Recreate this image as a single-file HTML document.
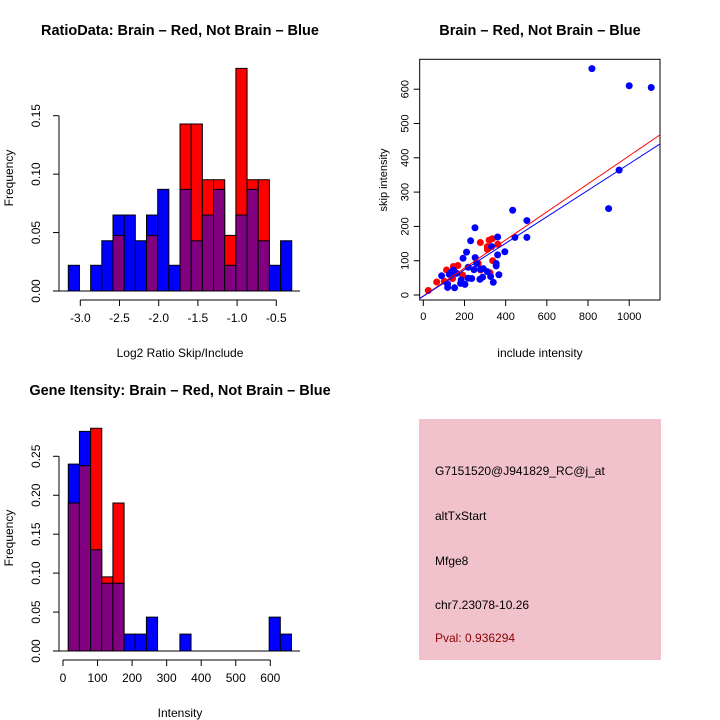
<!DOCTYPE html>
<html><head><meta charset="utf-8"><style>
body{margin:0;background:#fff}
svg{display:block;font-family:"Liberation Sans",sans-serif}
</style></head><body>
<svg id="chart" width="720" height="720" xmlns="http://www.w3.org/2000/svg">
<rect width="720" height="720" fill="#fff"/>
<g id="h1"></g>
<g id="sc"></g>
<g id="h2"></g>
<g>
<rect x="419" y="419" width="242" height="241" fill="#f1c2cc"/>
<g font-size="12" fill="#000">
<text x="435" y="475">G7151520@J941829_RC@j_at</text>
<text x="435" y="520">altTxStart</text>
<text x="435" y="565">Mfge8</text>
<text x="435" y="609">chr7.23078-10.26</text>
<text x="435" y="642" fill="#8b0000">Pval: 0.936294</text>
</g></g>
</svg>
<script>
const NS="http://www.w3.org/2000/svg";
// Ratio histogram data
const ratioBlue=[0.022,0,0.022,0.043,0.065,0.065,0.043,0.065,0.087,0.022,0.087,0.043,0.065,0.087,0.022,0.065,0.087,0.043,0.022,0.043];
const ratioRed=[0,0,0,0,0.0476,0,0,0.0476,0,0,0.1429,0.1429,0.0952,0.0952,0.0476,0.1905,0.0952,0.0952,0,0];
const ratioBinStart=-3.153, ratioBinWidth=0.1425;
const ratioXTicks=[-3.0,-2.5,-2.0,-1.5,-1.0,-0.5];
const ratioYTicks=[0,0.05,0.10,0.15];
// Intensity histogram data
const intBlue=[0.24,0.282,0.13,0.087,0.087,0.0217,0.0217,0.0435,0,0,0.0217,0,0,0,0,0,0,0,0.0435,0.0217];
const intRed=[0.19,0.238,0.286,0.0952,0.19,0,0,0,0,0,0,0,0,0,0,0,0,0,0,0];
const intBinStart=15.3, intBinWidth=32.3;
const intXTicks=[0,100,200,300,400,500,600];
const intYTicks=[0,0.05,0.10,0.15,0.20,0.25];
// Scatter data
const blueX=[819,1000,1107,951,900,434,503,445,503,251,361,230,396,210,193,252,361,332,354,354,218,246,291,311,146,133,126,89,162,184,181,202,118,118,152,218,235,275,288,327,340,367,259,278];
const blueY=[660,610,605,364,252,247,217,168,168,196,169,158,126,125,107,109,117,141,92,85,81,74,77,68,73,65,60,56,63,44,34,31,32,22,21,49,48,46,52,54,37,59,92,75];
const redX=[24,65,102,113,146,168,191,142,277,311,320,335,362,337,267,278,324,311,150];
const redY=[13,38,40,73,83,86,58,48,153,141,160,164,148,100,92,73,65,133,70];
const fitIntercept=[-3.2,-3.5]; // red, blue
const fitSlope=[0.409,0.386];
const scXTicks=[0,200,400,600,800,1000];
const scYTicks=[0,100,200,300,400,500,600];

function el(p,tag,attrs,txt){const e=document.createElementNS(NS,tag);for(const k in attrs)e.setAttribute(k,attrs[k]);if(txt!=null)e.textContent=txt;p.appendChild(e);return e;}

function hist(g,blue,red,start,width,xs,ys,xTicks,yTicks,xDom,yAx,xAxY){
  for(let i=0;i<blue.length;i++){
    const b=blue[i],r=red[i];
    const x0=xs(start+i*width),x1=xs(start+(i+1)*width);
    const mx=Math.max(b,r),mn=Math.min(b,r);
    if(mx>0){
      const e=el(g,'rect',{x:x0,y:ys(mx),width:x1-x0,height:ys(0)-ys(mx),fill:b>=r?'#0000ff':'#ff0000',stroke:'#000','stroke-width':1});
      
      
    }
    if(mn>0){
      const e=el(g,'rect',{x:x0,y:ys(mn),width:x1-x0,height:ys(0)-ys(mn),fill:'#800080',stroke:'#000','stroke-width':1});
      
      
    }
  }
  const ya=el(g,'g',{});
  
  
  el(ya,'line',{x1:yAx,x2:yAx,y1:ys(yTicks[0]),y2:ys(yTicks[yTicks.length-1]),stroke:'#000'});
  yTicks.forEach(t=>{const y=ys(t);el(ya,'line',{x1:yAx-6,x2:yAx,y1:y,y2:y,stroke:'#000'});
    el(ya,'text',{x:yAx-19,y:y,transform:`rotate(-90 ${yAx-19} ${y})`,'text-anchor':'middle','font-size':12},t.toFixed(2));});
  const xa=el(g,'g',{});
  
  
  el(xa,'line',{x1:xs(xTicks[0]),x2:xs(xTicks[xTicks.length-1]),y1:xAxY,y2:xAxY,stroke:'#000'});
  xTicks.forEach(t=>{const x=xs(t);el(xa,'line',{x1:x,x2:x,y1:xAxY,y2:xAxY+6,stroke:'#000'});
    el(xa,'text',{x:x,y:xAxY+22,'text-anchor':'middle','font-size':12},xDom(t));});
}

// Histogram 1
{
  const g=document.getElementById('h1');
  const xs=v=>80.3+(v+3)*78.4;
  const ys=v=>291-v*1168.7;
  hist(g,ratioBlue,ratioRed,ratioBinStart,ratioBinWidth,xs,ys,ratioXTicks,ratioYTicks,t=>t.toFixed(1),59,300);
  el(g,'line',{x1:59,x2:300,y1:291,y2:291,stroke:'#000'});
  const t=el(g,'text',{x:180,y:35,'text-anchor':'middle','font-size':14.5,'font-weight':'bold'},'RatioData: Brain – Red, Not Brain – Blue');
  
  const xl=el(g,'text',{x:180,y:357,'text-anchor':'middle','font-size':12},'Log2 Ratio Skip/Include');
  
  const yl=el(g,'text',{x:13,y:178,transform:'rotate(-90 13 178)','text-anchor':'middle','font-size':12},'Frequency');
  
}
// Histogram 2
{
  const g=document.getElementById('h2');
  const xs=v=>63+v*0.3455;
  const ys=v=>651-v*778.8;
  hist(g,intBlue,intRed,intBinStart,intBinWidth,xs,ys,intXTicks,intYTicks,t=>String(t),59,660);
  el(g,'line',{x1:59,x2:300,y1:651,y2:651,stroke:'#000'});
  const t=el(g,'text',{x:180,y:395,'text-anchor':'middle','font-size':14.5,'font-weight':'bold'},'Gene Itensity: Brain – Red, Not Brain – Blue');
  
  const xl=el(g,'text',{x:180,y:717,'text-anchor':'middle','font-size':12},'Intensity');
  
  const yl=el(g,'text',{x:13,y:538,transform:'rotate(-90 13 538)','text-anchor':'middle','font-size':12},'Frequency');
  
}
// Scatter
{
  const g=document.getElementById('sc');
  const L=419.7,R=660,T=59.3,B=300;
  const xs=v=>423.3+v*0.2059;
  const ys=v=>295-v*0.343;
  const box=el(g,'rect',{x:L,y:T,width:R-L,height:B-T,fill:'none',stroke:'#000'});
  
  el(g,'clipPath',{id:'clipSc'});
  el(g.lastChild,'rect',{x:L,y:T,width:R-L,height:B-T});
  const pts=el(g,'g',{});
  
  redX.forEach((x,i)=>{const c=el(pts,'circle',{cx:xs(x),cy:ys(redY[i]),r:3.5,fill:'#ff0000'});
    });
  blueX.forEach((x,i)=>{const c=el(pts,'circle',{cx:xs(x),cy:ys(blueY[i]),r:3.5,fill:'#0000ff'});
    });
  const cols=['#ff0000','#0000ff'];
  const xa0=-20,xa1=1200;
  fitIntercept.forEach((a,i)=>{const b=fitSlope[i];
    const ln=el(g,'line',{x1:xs(xa0),y1:ys(a+b*xa0),x2:xs(xa1),y2:ys(a+b*xa1),stroke:cols[i],'stroke-width':1,'clip-path':'url(#clipSc)'});
    });
  const ya=el(g,'g',{});
  
  scYTicks.forEach(t=>{const y=ys(t);el(ya,'line',{x1:L-6,x2:L,y1:y,y2:y,stroke:'#000'});
    el(ya,'text',{x:L-11,y:y,transform:`rotate(-90 ${L-11} ${y})`,'text-anchor':'middle','font-size':11},String(t));});
  const xa=el(g,'g',{});
  
  scXTicks.forEach(t=>{const x=xs(t);el(xa,'line',{x1:x,x2:x,y1:B,y2:B+6,stroke:'#000'});
    el(xa,'text',{x:x,y:B+20,'text-anchor':'middle','font-size':11},String(t));});
  const t=el(g,'text',{x:540,y:35,'text-anchor':'middle','font-size':14.5,'font-weight':'bold'},'Brain – Red, Not Brain – Blue');
  
  const xl=el(g,'text',{x:540,y:357,'text-anchor':'middle','font-size':12},'include intensity');
  
  const yl=el(g,'text',{x:387,y:180,transform:'rotate(-90 387 180)','text-anchor':'middle','font-size':11},'skip intensity');
  
}
</script>
</body></html>
